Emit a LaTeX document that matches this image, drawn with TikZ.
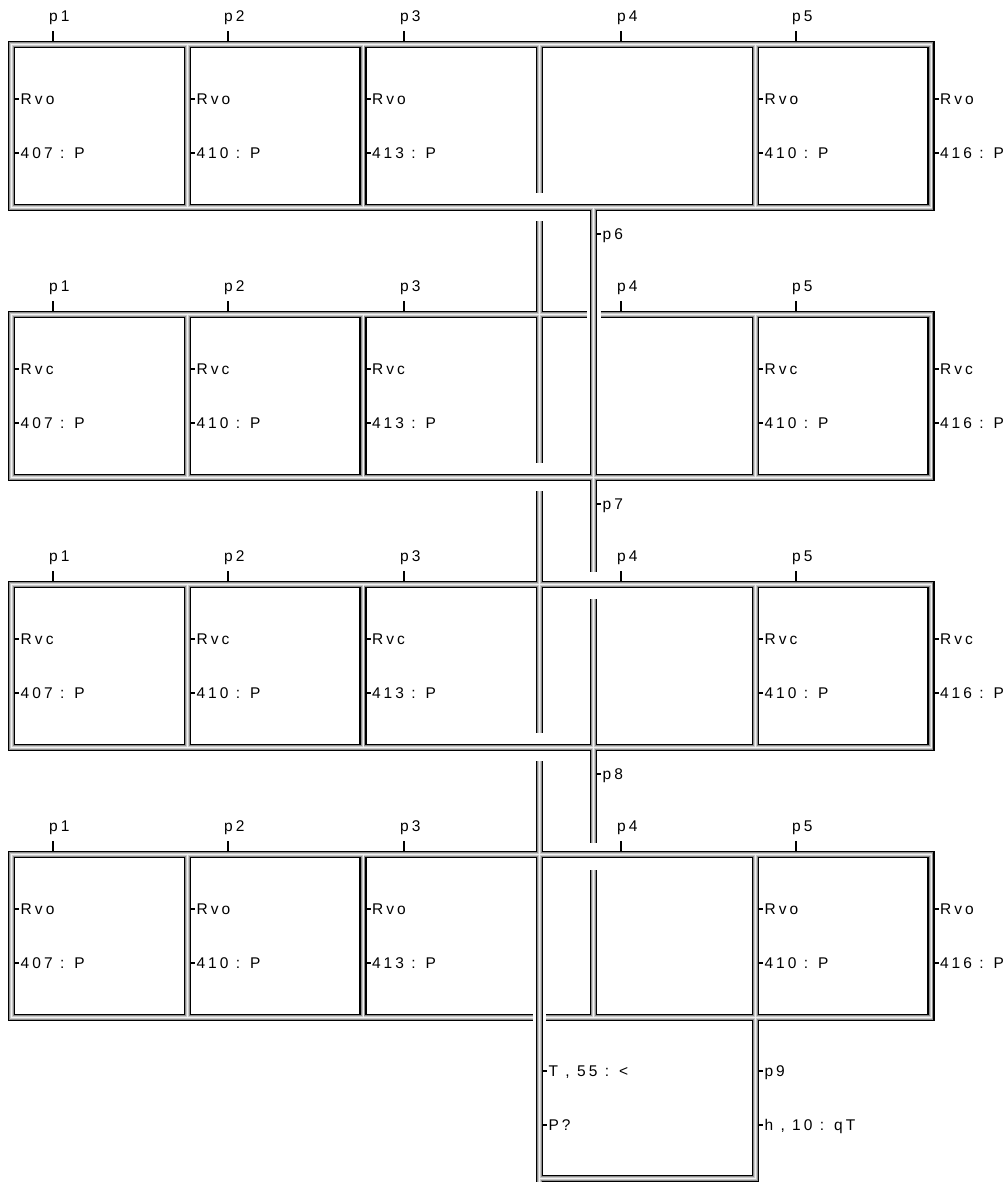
\documentclass[tikz,border=0pt]{standalone}
\usepackage{fontspec}
\setmainfont{Liberation Sans}
\pgfdeclarelayer{pb}\pgfdeclarelayer{pg}\pgfdeclarelayer{pl}\pgfdeclarelayer{pw}
\pgfsetlayers{pb,pg,pl,pw,main}
\definecolor{pipeD}{HTML}{8C8C8C}
\definecolor{pipeL}{HTML}{C8C8C8}
\definecolor{pipeW}{HTML}{F2F2F2}
\newcommand\pipedraw[1]{%
  \begin{pgfonlayer}{pb}\draw[line width=7.4pt,black] #1;\end{pgfonlayer}%
  \begin{pgfonlayer}{pg}\draw[line width=4.6pt,pipeD] #1;\end{pgfonlayer}%
  \begin{pgfonlayer}{pl}\draw[line width=2.8pt,pipeL] #1;\end{pgfonlayer}%
  \begin{pgfonlayer}{pw}\draw[line width=1.0pt,pipeW] #1;\end{pgfonlayer}}
\tikzset{
  tick/.style={line width=2pt,black},
  lbl/.style={anchor=base west,inner sep=0pt,text=black,
    font=\fontsize{15.5}{18}\selectfont\addfontfeature{LetterSpace=20}}
}
\begin{document}
\begin{tikzpicture}[x=1pt,y=-1pt]
\useasboundingbox (0,0) rectangle (1008,1182);
% ---- row frames
\pipedraw{(11.7,44.7) rectangle (931,207.3)}
\pipedraw{(600.5,314.7) -- (931,314.7) -- (931,477.3) -- (11.7,477.3) -- (11.7,314.7) -- (586.7,314.7)}
\pipedraw{(11.7,584.7) rectangle (931,747.3)}
\pipedraw{(546,1017.3) -- (931,1017.3) -- (931,854.7) -- (11.7,854.7) -- (11.7,1017.3) -- (533,1017.3)}
% ---- cell separators
\foreach \r in {1,...,4}{
  \pgfmathsetmacro\T{44.7+270*(\r-1)}
  \pgfmathsetmacro\B{\T+162.6}
  \foreach \sx in {187.5,363}{\pipedraw{(\sx,\T) -- (\sx,\B)}}
}
\foreach \r in {1,...,3}{
  \pgfmathsetmacro\T{44.7+270*(\r-1)}
  \pgfmathsetmacro\B{\T+162.6}
  \pipedraw{(755.5,\T) -- (755.5,\B)}
}
% bottom box
\pipedraw{(755.5,854.7) -- (755.5,1178.5) -- (539.5,1178.5)}
% ---- long left pipe (interrupted at row bottoms)
\pipedraw{(539.5,44.7) -- (539.5,193.3)}
\pipedraw{(539.5,221.3) -- (539.5,463.3)}
\pipedraw{(539.5,491.3) -- (539.5,733.3)}
\pipedraw{(539.5,761.3) -- (539.5,1186)}
% ---- right pipe
\pipedraw{(593.7,207.3) -- (593.7,572)}
\pipedraw{(593.7,599) -- (593.7,843)}
\pipedraw{(593.7,870) -- (593.7,1017.3)}
% ---- labels in rows
\foreach \r/\w in {1/o,2/c,3/c,4/o}{
  \pgfmathsetmacro\T{44.7+270*(\r-1)}
  \pgfmathsetmacro\ya{\T+54.2}
  \pgfmathsetmacro\yb{\T+108.4}
  \foreach \px/\pn in {53/1,228/2,404/3,621/4,796/5}{
    \coordinate (t\r-\pn) at (\px,\T-3.7);
    \coordinate (u\r-\pn) at (\px,\T-13.7);
    \draw[tick] (t\r-\pn) -- (u\r-\pn);
    \node[lbl] (p\r-\pn) at (\px-4,\T-23) {p\pn};
  }
  \foreach \sx/\num/\k in {11.7/407/a,187.5/410/b,363/413/c,755.5/410/d,931/416/e}{
    \coordinate (ka\r\k) at (\sx+3.7,\ya);
    \coordinate (kb\r\k) at (\sx+3.7,\yb);
    \draw[tick] (ka\r\k) -- ++(4,0);
    \draw[tick] (kb\r\k) -- ++(4,0);
    \node[lbl] (na\r\k) at (\sx+8.8,\ya+5.5) {Rv\w};
    \node[lbl] (nb\r\k) at (\sx+8.8,\yb+5.5) {\num\ : P};
  }
}
% ---- p6 p7 p8 on right pipe
\foreach \r/\pn in {1/6,2/7,3/8}{
  \pgfmathsetmacro\B{207.3+270*(\r-1)}
  \coordinate (q\pn) at (597.4,\B+26.5);
  \draw[tick] (q\pn) -- ++(4,0);
  \node[lbl] (p\pn) at (602.5,\B+32) {p\pn};
}
% ---- bottom box labels
\coordinate (bx1) at (543.2,1071);
\coordinate (bx2) at (543.2,1125);
\coordinate (bx3) at (759.2,1071);
\coordinate (bx4) at (759.2,1125);
\foreach \c in {bx1,bx2,bx3,bx4}{\draw[tick] (\c) -- ++(4,0);}
\node[lbl] (tl) at (548.3,1076.5) {T , 55 : <};
\node[lbl] (pq) at (548.3,1130.5) {P?};
\node[lbl] (p9) at (764.3,1076.5) {p9};
\node[lbl] (hq) at (764.3,1130.5) {h , 10 : qT};
\end{tikzpicture}
\end{document}
